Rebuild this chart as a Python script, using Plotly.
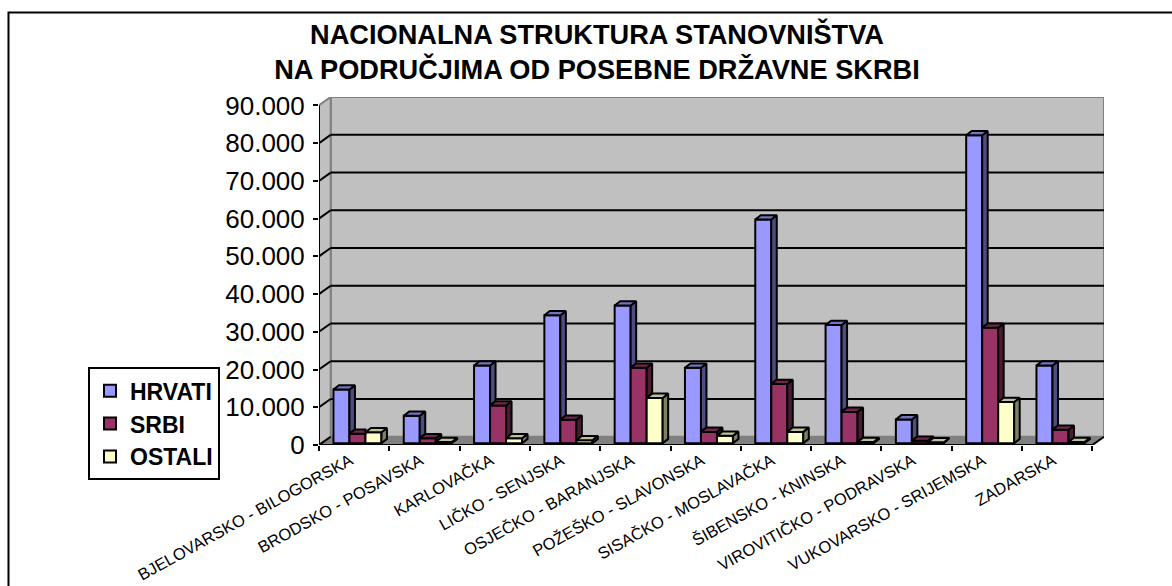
import plotly.graph_objects as go

categories = ["BJELOVARSKO - BILOGORSKA", "BRODSKO - POSAVSKA", "KARLOVAČKA", "LIČKO - SENJSKA",
              "OSJEČKO - BARANJSKA", "POŽEŠKO - SLAVONSKA", "SISAČKO - MOSLAVAČKA", "ŠIBENSKO - KNINSKA",
              "VIROVITIČKO - PODRAVSKA", "VUKOVARSKO - SRIJEMSKA", "ZADARSKA"]
hrvati = [14200, 7250, 20600, 33900, 36500, 20000, 59300, 31300, 6300, 81600, 20600]
srbi = [2500, 1330, 10000, 6200, 20000, 3000, 15700, 8300, 620, 30600, 3550]
ostali = [2900, 300, 1330, 800, 12000, 1950, 3000, 300, 250, 10900, 300]
y_ticks = [0, 10000, 20000, 30000, 40000, 50000, 60000, 70000, 80000, 90000]
title_lines = ["NACIONALNA STRUKTURA STANOVNIŠTVA", "NA PODRUČJIMA OD POSEBNE DRŽAVNE SKRBI"]

W, H = 1172, 586
L, R, T, B = 319, 68, 97, 141.3
PX_X = (W - L - R) / 11.166     # pixels per category
PX_Y = 37.7 / 10000             # pixels per unit
XMIN, XMAX = -0.5, 10.666
YMAX = (H - T - B) / PX_Y
WALL_DX = (XMAX - 10.5)
WALL_DY = 8.3 / PX_Y
BAR_W = 16 / PX_X
BAR_SHIFT = 3.3 / PX_X
BAR_DX = 5.5 / PX_X
BAR_DY = 4.3 / PX_Y
BASE = 1.8 / PX_Y
EDGE = 2

series = [
    ("HRVATI", hrvati, "#9999FF", "#4D4D80", "#7373BF"),
    ("SRBI", srbi, "#993366", "#4D1A33", "#73264D"),
    ("OSTALI", ostali, "#FFFFCC", "#808066", "#BFBF99"),
]

fig = go.Figure()
xs = list(range(len(categories)))
for s, (name, vals, front, side, top) in enumerate(series):
    offset = BAR_SHIFT + (s - 1.5) * BAR_W
    fig.add_trace(go.Bar(
        x=xs, y=vals, base=[BASE] * len(vals), width=BAR_W, offset=offset, name=name,
        legendgroup=name,
        marker=dict(color=front, line=dict(color="black", width=EDGE)),
    ))

for s, (name, vals, front, side, top) in enumerate(series):
    sx, sy, tx, ty = [], [], [], []
    nxt = series[s + 1][1] if s < 2 else [0] * len(vals)
    for i, v in enumerate(vals):
        xl = i + BAR_SHIFT + (s - 1.5) * BAR_W
        xr = xl + BAR_W
        yv = v + BASE
        if s == 2 or nxt[i] < v:
            low = nxt[i] + BASE if s < 2 else BASE
            sx += [xr, xr + BAR_DX, xr + BAR_DX, xr, xr, None]
            sy += [low, low + BAR_DY, yv + BAR_DY, yv, low, None]
            tx += [xl, xr, xr + BAR_DX, xl + BAR_DX, xl, None]
            ty += [yv, yv, yv + BAR_DY, yv + BAR_DY, yv, None]
        else:
            tx += [xl, xr, xr, xl + BAR_DX, xl, None]
            ty += [yv, yv, yv + BAR_DY, yv + BAR_DY, yv, None]
    for px, py, col in ((sx, sy, side), (tx, ty, top)):
        fig.add_trace(go.Scatter(
            x=px, y=py, mode="lines", fill="toself", fillcolor=col,
            line=dict(color="black", width=EDGE), showlegend=False, hoverinfo="skip",
        ))

GREY = "#808080"
WALL = "#C0C0C0"
shapes = [
    dict(type="rect", xref="x", yref="y", x0=XMIN + WALL_DX, x1=XMAX, y0=WALL_DY, y1=YMAX,
         fillcolor=WALL, line=dict(color=GREY, width=2), layer="below"),
    dict(type="path", xref="x", yref="y",
         path=f"M {XMIN} 0 L {XMIN + WALL_DX} {WALL_DY} L {XMIN + WALL_DX} {YMAX} L {XMIN} {YMAX - WALL_DY} Z",
         fillcolor=WALL, line=dict(color=GREY, width=2), layer="below"),
    dict(type="path", xref="x", yref="y",
         path=f"M {XMIN} 0 L 10.5 0 L {XMAX} {WALL_DY} L {XMIN + WALL_DX} {WALL_DY} Z",
         fillcolor=GREY, line=dict(color=GREY, width=1), layer="below"),
]
for t in y_ticks:
    if 0 < t < y_ticks[-1]:
        shapes.append(dict(type="line", xref="x", yref="y", x0=XMIN + WALL_DX, x1=XMAX,
                           y0=t + WALL_DY, y1=t + WALL_DY, line=dict(color="black", width=2), layer="below"))
    if t < y_ticks[-1]:
        shapes.append(dict(type="line", xref="x", yref="y", x0=XMIN, x1=XMIN + WALL_DX,
                           y0=t, y1=t + WALL_DY, line=dict(color="black", width=2), layer="below"))
shapes += [
    dict(type="line", xref="x", yref="y", x0=XMIN, x1=10.5, y0=0, y1=0, line=dict(color="black", width=2)),
    dict(type="line", xref="x", yref="y", x0=10.5, x1=XMAX, y0=0, y1=WALL_DY, line=dict(color="black", width=2)),
    dict(type="line", xref="x", yref="y", x0=XMIN, x1=XMIN, y0=0, y1=y_ticks[-1], line=dict(color="black", width=2)),
    # outer frame, running past the right and bottom edges of the page
    dict(type="rect", xref="paper", yref="paper",
         x0=(8.5 - L) / (W - L - R), x1=(W + 20 - L) / (W - L - R),
         y0=-1, y1=(H - B - 12.5) / (H - T - B),
         line=dict(color="black", width=2), layer="below"),
]

fig.update_layout(
    width=W, height=H, autosize=False,
    margin=dict(l=L, r=R, t=T, b=B, pad=0, autoexpand=False),
    paper_bgcolor="white", plot_bgcolor="rgba(0,0,0,0)",
    separators=",.",
    barmode="overlay",
    font=dict(family="Liberation Sans, Arial, sans-serif", color="black"),
    title=dict(text="<br>".join(title_lines), x=597 / W, xanchor="center", y=1 - 44 / H, yanchor="top",
               font=dict(size=27.2, family="Liberation Sans, Arial, sans-serif", color="black", weight="bold")),
    xaxis=dict(range=[XMIN, XMAX], tickmode="array", tickvals=xs, ticktext=categories, tickangle=-29,
               ticks="", showgrid=False, zeroline=False, showline=False, automargin=False,
               ticklabelstandoff=2, ticklabelshift=-4,
               tickfont=dict(size=16.5, color="black"),
               minor=dict(tickmode="array", tickvals=[i - 0.5 for i in range(len(categories) + 1)],
                          ticks="outside", ticklen=5, tickwidth=2, tickcolor="black", showgrid=False)),
    yaxis=dict(range=[0, YMAX], tickmode="array", tickvals=y_ticks, tickformat=",d",
               ticks="outside", ticklen=5, tickwidth=2, tickcolor="black",
               showgrid=False, zeroline=False, showline=False, ticklabelstandoff=3, automargin=False,
               tickfont=dict(size=26, color="black")),
    legend=dict(x=(88 - L) / (W - L - R), xanchor="left", y=(H - B - 367) / (H - T - B), yanchor="top",
                bgcolor="white", bordercolor="black", borderwidth=2,
                font=dict(size=23, color="black", weight="bold"),
                tracegroupgap=17, itemwidth=30, traceorder="normal"),
    shapes=shapes,
    showlegend=True,
)

fig.write_html("out.html", config={"displayModeBar": False}, post_script="document.body.style.margin='0';")
